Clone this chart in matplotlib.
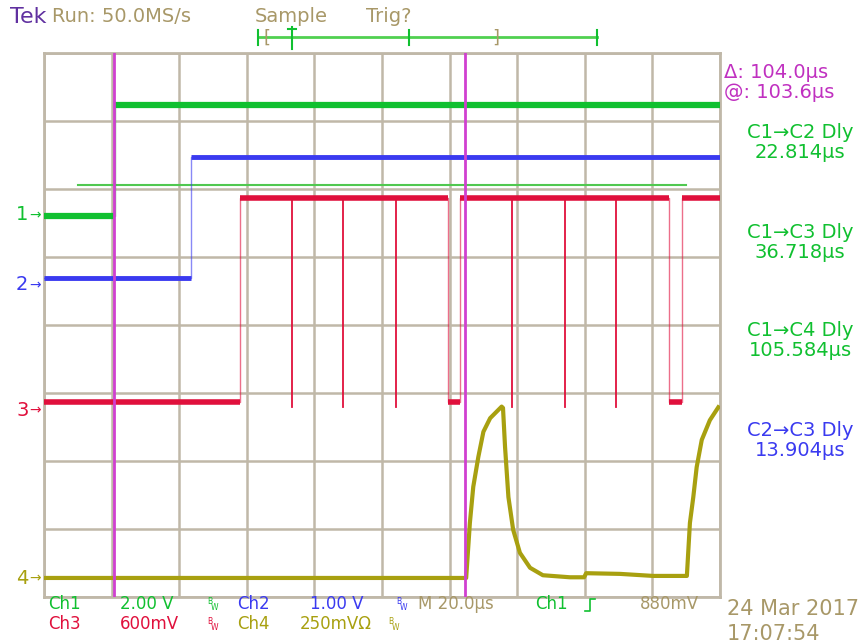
import matplotlib.pyplot as plt
from matplotlib.lines import Line2D

# oscilloscope screen: 10 divisions x 20 us, 8 vertical divisions
W, H = 866, 644

GREEN = '#10c030'
BLUE = '#3a3af0'
RED = '#e0103c'
OLIVE = '#a8a010'
MAGENTA = '#d040d0'
TAN = '#a89868'
GRIDC = '#c0b8a8'

# channel levels in divisions, times in us
ch1_segments = [(0, 21.0, 5.60), (21.0, 200, 7.24)]
ch2_segments = [(0, 43.5, 4.69), (43.5, 200, 6.47)]
ch3_segments = [(0, 58.0, 2.875), (58.0, 119.5, 5.87), (119.5, 123.1, 2.875),
                (123.1, 184.9, 5.87), (184.9, 188.8, 2.875), (188.8, 200, 5.87)]
ch3_spikes = [73.4, 88.5, 104.1, 138.5, 154.1, 169.2]
ch3_spike_low = 2.80

ch4_t = [0, 124.9, 126.0, 127.0, 128.5, 130.0, 132.0, 135.4, 135.8, 136.4, 137.4,
         138.8, 140.8, 143.8, 147.6, 155.6, 159.8, 160.4, 170.4, 180.2, 190.2,
         191.1, 192.1, 193.1, 194.6, 197.0, 199.5]
ch4_v = [0.28, 0.28, 1.09, 1.62, 2.06, 2.43, 2.63, 2.80, 2.78, 2.21, 1.47,
         0.99, 0.65, 0.43, 0.32, 0.29, 0.29, 0.35, 0.34, 0.31, 0.31,
         1.09, 1.47, 1.91, 2.31, 2.60, 2.79]

cursor1 = 20.7
cursor2 = cursor1 + 104.0
trig_level = 6.06
trig_span = (10.1, 189.8)


def fx(x):
    return x / W


def fy(y):
    return 1 - y / H


def step_trace(ax, segs, color, lw):
    xs, ys = [], []
    for s, e, lv in segs:
        xs += [s, e]
        ys += [lv, lv]
    ax.plot(xs, ys, color=color, lw=1.0, alpha=0.6, zorder=3)
    for s, e, lv in segs:
        ax.plot([s, e], [lv, lv], color=color, lw=lw, zorder=4,
                solid_capstyle='butt')


fig = plt.figure(figsize=(8.66, 6.44), dpi=100)
ax = fig.add_axes([fx(44), fy(597), 676 / W, 544 / H])
ax.set_xlim(0, 200)
ax.set_ylim(0, 8)
ax.set_xticks(range(0, 201, 20))
ax.set_yticks(range(0, 9))
ax.tick_params(length=0, labelbottom=False, labelleft=False)
ax.grid(True, color=GRIDC, lw=1.8)
ax.set_axisbelow(True)
for sp in ax.spines.values():
    sp.set_color(GRIDC)
    sp.set_linewidth(2)

# trigger level
ax.plot(trig_span, [trig_level, trig_level], color='#50c850', lw=1.5, zorder=2)

step_trace(ax, ch1_segments, GREEN, 4.5)
step_trace(ax, ch2_segments, BLUE, 3.5)
step_trace(ax, ch3_segments, RED, 4)
for s in ch3_spikes:
    ax.plot([s, s], [ch3_spike_low, ch3_segments[1][2]], color=RED, lw=1.3, zorder=3)
ax.plot(ch4_t, ch4_v, color=OLIVE, lw=3, zorder=4)

for c in (cursor1, cursor2):
    ax.axvline(c, color=MAGENTA, lw=2, zorder=6)

fs = 14
# header
fig.text(fx(10), fy(17), 'Tek', color='#6030a0', fontsize=16, va='center')
fig.text(fx(52), fy(17), 'Run: 50.0MS/s', color=TAN, fontsize=fs, va='center')
fig.text(fx(255), fy(17), 'Sample', color=TAN, fontsize=fs, va='center')
fig.text(fx(366), fy(17), 'Trig?', color=TAN, fontsize=fs, va='center')

# record bar
lines = [([258, 597], [37.3, 37.3], '#50d050', 2),
         ([258, 258], [30, 45], GREEN, 1.5),
         ([409, 409], [30, 45], GREEN, 1.5),
         ([597, 597], [30, 45], GREEN, 1.5),
         ([292, 292], [27, 49], GREEN, 1.5),
         ([288, 296], [29, 29], GREEN, 1.5)]
for xs, ys, c, lw in lines:
    fig.add_artist(Line2D([fx(v) for v in xs], [fy(v) for v in ys], color=c, lw=lw))
fig.text(fx(267), fy(38), '[', color=TAN, fontsize=13, va='center', ha='center')
fig.text(fx(496), fy(38), ']', color=TAN, fontsize=13, va='center', ha='center')

# channel markers
markers = [('1', 215, GREEN), ('2', 285, BLUE), ('3', 410, RED), ('4', 578, OLIVE)]
for lab, y, c in markers:
    fig.text(fx(16), fy(y), lab, color=c, fontsize=fs, va='center')
    fig.text(fx(29), fy(y), '→', color=c, fontsize=10, va='center')

# readouts on the right
fig.text(fx(724), fy(72), 'Δ: 104.0µs', color='#c030c0', fontsize=fs, va='center')
fig.text(fx(724), fy(92), '@: 103.6µs', color='#c030c0', fontsize=fs, va='center')
readouts = [('C1→C2 Dly', '22.814µs', 133, GREEN),
            ('C1→C3 Dly', '36.718µs', 232, GREEN),
            ('C1→C4 Dly', '105.584µs', 331, GREEN),
            ('C2→C3 Dly', '13.904µs', 430, BLUE)]
for a, b, y, c in readouts:
    fig.text(fx(800), fy(y), a, color=c, fontsize=fs, va='center', ha='center')
    fig.text(fx(800), fy(y + 20), b, color=c, fontsize=fs, va='center', ha='center')

# bottom status
bfs = 12
row1, row2 = 604, 624
bottom = [('Ch1', 48, row1, GREEN), ('2.00 V', 120, row1, GREEN),
          ('Ch2', 237, row1, BLUE), ('1.00 V', 310, row1, BLUE),
          ('M 20.0µs', 418, row1, TAN), ('Ch1', 535, row1, GREEN),
          ('880mV', 640, row1, TAN),
          ('Ch3', 48, row2, RED), ('600mV', 120, row2, RED),
          ('Ch4', 237, row2, OLIVE), ('250mVΩ', 300, row2, OLIVE)]
for t, x, y, c in bottom:
    fig.text(fx(x), fy(y), t, color=c, fontsize=bfs, va='center')
bw = [(207, row1, GREEN), (396, row1, BLUE), (207, row2, RED), (388, row2, OLIVE)]
for x, y, c in bw:
    fig.text(fx(x), fy(y - 3), 'B', color=c, fontsize=5.5, va='center')
    fig.text(fx(x + 4), fy(y + 3), 'W', color=c, fontsize=5.5, va='center')
# rising edge symbol
fig.add_artist(Line2D([fx(585), fx(590), fx(590), fx(595)],
                      [fy(611), fy(611), fy(599), fy(599)], color=GREEN, lw=1.2))
fig.text(fx(727), fy(609), '24 Mar 2017', color=TAN, fontsize=15, va='center')
fig.text(fx(727), fy(634), '17:07:54', color=TAN, fontsize=15, va='center')

fig.savefig('out.png', dpi=100, facecolor='white')
